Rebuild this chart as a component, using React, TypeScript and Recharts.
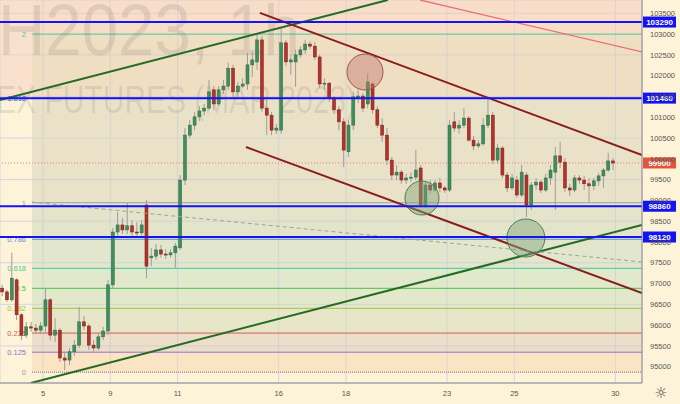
import React from 'react';
import {
  ComposedChart, Bar, XAxis, YAxis, CartesianGrid,
  ReferenceLine, ReferenceArea, ReferenceDot, Customized,
} from 'recharts';

// trading sessions, Jan 2023 (first one is only partly on screen)
const sessionDays = [3, 4, 5, 6, 9, 10, 11, 12, 13, 16, 17, 18, 19, 20, 23, 24, 25, 26, 27, 30];
const barsInSession = [2, 7, 7, 7, 7, 7, 7, 7, 7, 7, 7, 7, 7, 7, 7, 7, 7, 7, 7, 0];
const labelledDays = [5, 9, 11, 16, 18, 23, 25, 30];

const opens = [
  96890, 96800, 96610, 97090, 96250, 95760, 95960, 95930, 95880, 95980,
  96610, 95760, 95880, 95210, 95160, 95360, 95520, 96080, 95980, 95520,
  95450, 95720, 95860, 96970, 98240, 98410, 98290, 98390, 98240, 98220,
  98890, 97620, 97660, 97810, 97710, 97690, 97740, 97860, 99490, 100570,
  100810, 101010, 101150, 101220, 101660, 101320, 101660, 101750, 102180, 101610,
  101750, 101800, 102260, 102330, 102860, 101220, 101050, 100690, 100690, 102790,
  102330, 102330, 102500, 102620, 102760, 102710, 102450, 101800, 101820, 101460,
  101180, 100890, 100170, 100810, 101490, 101510, 101320, 101800, 101180, 100810,
  100570, 99970, 99610, 99680, 99490, 99540, 99560, 99780, 98890, 99370,
  99250, 99420, 99300, 99250, 100890, 100740, 100810, 100980, 100450, 100310,
  100360, 100810, 101050, 99970, 100260, 99610, 99300, 99490, 99130, 99610,
  98890, 99370, 99440, 99250, 99540, 99680, 100070, 99920, 99300, 99250,
  99540, 99490, 99400, 99350, 99470, 99590, 99730, 99950,
];
const highs = [
  96970, 96850, 97740, 97130, 96290, 96080, 96080, 96030, 96080, 96890,
  96650, 96170, 95930, 95360, 95450, 95640, 96440, 96220, 96030, 95640,
  95810, 95960, 97090, 98340, 98720, 98580, 98940, 98530, 98480, 98530,
  99010, 97860, 97950, 97930, 97830, 97830, 97980, 99610, 100740, 100930,
  101130, 101270, 101320, 101900, 101750, 101750, 101900, 102310, 102260, 101850,
  101940, 102550, 102570, 103030, 102950, 101420, 101130, 100840, 103170, 102860,
  102500, 102620, 102710, 102860, 102830, 102810, 102500, 101940, 101850, 101510,
  101270, 100980, 100930, 101610, 101660, 101580, 102060, 101850, 101270, 100980,
  100740, 100050, 99850, 99730, 99640, 99680, 100210, 99850, 99440, 99490,
  99490, 99540, 99350, 100930, 101130, 100930, 101220, 101030, 100550, 100450,
  100980, 101490, 101130, 100360, 100310, 99680, 99640, 99590, 99850, 99680,
  99440, 99540, 99490, 99640, 99850, 100280, 100410, 100020, 99400, 99610,
  99610, 99590, 99540, 99540, 99660, 99780, 100140, 100020,
];
const lows = [
  96700, 96560, 96560, 96120, 95640, 95690, 95840, 95790, 95790, 95810,
  95640, 95600, 95110, 94920, 95040, 95260, 95450, 95880, 95400, 95360,
  95400, 95640, 95760, 96890, 98150, 98190, 98190, 98150, 98100, 98150,
  97130, 97420, 97570, 97620, 97590, 97620, 97380, 97810, 99370, 100500,
  100690, 100910, 101050, 101180, 101180, 101270, 101560, 101660, 101460, 101460,
  101700, 101660, 101970, 102140, 101130, 100570, 100570, 100600, 100600, 102230,
  102020, 101730, 102430, 102520, 102640, 102380, 101700, 101660, 101370, 101080,
  100690, 99800, 100050, 100690, 101340, 101130, 101220, 101080, 100740, 100410,
  99850, 99490, 99490, 99400, 99400, 99440, 99490, 98820, 98820, 99160,
  99200, 99200, 99180, 99200, 100650, 100600, 100740, 100410, 100210, 100260,
  100310, 100740, 99880, 99880, 99540, 99200, 99250, 99060, 99080, 98600,
  98770, 99250, 99180, 99200, 99370, 98770, 99780, 99200, 99110, 99200,
  99400, 99250, 98960, 99250, 99350, 99300, 99680, 99730,
];
const closes = [
  96800, 96610, 97130, 96250, 95760, 95960, 95930, 95880, 95980, 96610,
  95760, 95880, 95210, 95160, 95360, 95520, 96080, 95980, 95520, 95450,
  95720, 95860, 96970, 98240, 98410, 98290, 98390, 98240, 98220, 98410,
  97420, 97660, 97810, 97710, 97690, 97740, 97900, 99490, 100570, 100810,
  101010, 101150, 101220, 101610, 101320, 101660, 101750, 102180, 101610, 101750,
  101800, 102260, 102380, 102860, 101220, 101050, 100690, 100740, 102790, 102330,
  102380, 102500, 102620, 102760, 102710, 102450, 101800, 101820, 101460, 101180,
  100890, 100210, 100810, 101490, 101510, 101220, 101850, 101180, 100810, 100570,
  99970, 99610, 99680, 99490, 99540, 99560, 99730, 98890, 99370, 99250,
  99420, 99300, 99250, 100810, 100740, 100810, 100980, 100450, 100310, 100360,
  100810, 101050, 99970, 100260, 99610, 99300, 99540, 99130, 99680, 98890,
  99370, 99440, 99250, 99540, 99730, 100070, 99920, 99300, 99250, 99540,
  99490, 99400, 99350, 99470, 99590, 99730, 99950, 99900,
];

const priceTicks = [
  95000, 95500, 96000, 96500, 97000, 97500, 98000, 98500,
  99000, 99500, 100000, 100500, 101000, 101500, 102000, 102500, 103000, 103500,
];

const fibNames = ['0', '0.125', '0.236', '0.382', '0.5', '0.618', '0.786', '1', '1.618', '2'];
const fibValues = [94870, 95350, 95810, 96405, 96886, 97367, 98065, 98945, 101460, 103000];
const levelPrices = [103290, 101460, 98860, 98120];
const lastPrice = 99900;

// drawn lines: [candle index, price] pairs
const trendLines = [
  { from: [-0.43, 101415], to: [80.2, 103820] },
  { from: [6.0, 94609], to: [133.04, 98410] },
  { from: [53.6, 103510], to: [133.04, 100090] },
  { from: [50.7, 100285], to: [133.04, 96770] },
  { from: [86.9, 103820], to: [133.04, 102570] },
  { from: [6.2, 98960], to: [133.04, 97520] },
];
const circles = [
  { idx: 75.45, price: 102088 },
  { idx: 87.3, price: 99058 },
  { idx: 108.9, price: 98096 },
];

const X_DOMAIN: [number, number] = [-0.432, 133.04];
const Y_DOMAIN: [number, number] = [94609, 103820];
const FIB_START = 6.22;
const FONT = '"Liberation Sans", Arial, sans-serif';

const fibColors = ['#a39c90', '#8f70d2', '#d05d58', '#a2c43a', '#46c646', '#3ccf98', '#5a92de', '#a0a0a0', '#3b57e0', '#44c898'];
const bandFills = ['#f7d5b0', '#dbc9b8', '#d3d9b8', '#cbddbc', '#c7ddc0', '#c7d9c0', '#cbd5bc', '#d7d1b8', '#e3c9ae', '#f3c9b8'];
const lineStyles = [
  { stroke: '#236b23', width: 2, dash: undefined },
  { stroke: '#236b23', width: 2, dash: undefined },
  { stroke: '#8a1c1c', width: 2, dash: undefined },
  { stroke: '#8a1c1c', width: 2, dash: undefined },
  { stroke: '#e8707a', width: 1.3, dash: undefined },
  { stroke: '#a3a09a', width: 1, dash: '4 3' },
];
const circleStyles = [
  { fill: '#c07a70', stroke: '#a0554c', r: 18 },
  { fill: '#7fa37a', stroke: '#4f7a4f', r: 17 },
  { fill: '#7fa37a', stroke: '#4f7a4f', r: 19 },
];

const data = opens.map((o, i) => ({
  idx: i,
  open: o,
  high: highs[i],
  low: lows[i],
  close: closes[i],
  range: [lows[i], highs[i]],
}));

const sessionStart: number[] = [];
let acc = 0;
sessionDays.forEach((d, i) => {
  sessionStart.push(acc);
  acc += barsInSession[i];
});
const dayTicks = labelledDays.map((d) => sessionStart[sessionDays.indexOf(d)] - 0.5);
const dayLabel = (v: number) => {
  const i = dayTicks.findIndex((t) => Math.abs(t - v) < 0.01);
  return i >= 0 ? String(labelledDays[i]) : '';
};

const Candle = (props: any) => {
  const { x, y, width, height, payload } = props;
  if (x == null || !payload) return null;
  const { open, close, high, low } = payload;
  const top = Math.min(y, y + height);
  const h = Math.abs(height);
  const k = h / Math.max(high - low, 1);
  const py = (v: number) => top + (high - v) * k;
  const up = close >= open;
  const bodyTop = py(Math.max(open, close));
  const bodyH = Math.max(py(Math.min(open, close)) - bodyTop, 1);
  const cx = x + width / 2;
  return (
    <g>
      <line x1={cx} x2={cx} y1={top} y2={top + h} stroke="#9c9c9c" strokeWidth={1} />
      <rect
        x={x} y={bodyTop} width={width} height={bodyH}
        fill={up ? '#3f8f5c' : '#b3322b'}
        stroke={up ? '#2b6640' : '#7a1e19'} strokeWidth={0.5}
      />
    </g>
  );
};

const fibLabel = (name: string, color: string) => (p: any) => {
  const vb = p.viewBox || {};
  return (
    <text x={(vb.x ?? 32) - 6} y={(vb.y ?? 0) + 3} textAnchor="end" fontSize={7.5} fill={color} fontFamily={FONT}>
      {name}
    </text>
  );
};

const priceTag = (text: string, bg: string) => (p: any) => {
  const vb = p.viewBox || {};
  const x = (vb.x ?? 0) + (vb.width ?? 642) + 1;
  const y = vb.y ?? 0;
  return (
    <g>
      <rect x={x} y={y - 5.5} width={33} height={11} fill={bg} />
      <text x={x + 16.5} y={y + 3} textAnchor="middle" fontSize={8} fontWeight="bold" fill="#fff" fontFamily={FONT}>
        {text}
      </text>
    </g>
  );
};

const Watermark = () => (
  <g>
    <g fill="#6f6a60" fillOpacity={0.16} fontFamily={FONT}>
      <text x={-2} y={55} fontSize={72} textLength={302} lengthAdjust="spacingAndGlyphs">H2023, 1h</text>
      <text x={-4} y={113} fontSize={39} textLength={360} lengthAdjust="spacingAndGlyphs">EX FUTURES (MAR 2023)</text>
    </g>
    <text x={661} y={398} fontSize={15} textAnchor="middle" fill="#444" fontFamily="DejaVu Sans">☼</text>
  </g>
);

export default function App() {
  return (
    <div style={{ position: 'absolute', left: 0, top: 0, width: 680, height: 404, background: '#fdf3d8', fontFamily: FONT }}>
      <ComposedChart width={680} height={404} data={data} margin={{ top: 0, right: 0, bottom: 0, left: 0 }}>
        <CartesianGrid stroke="#d0d4e8" strokeWidth={1} />
        <XAxis
          type="number" dataKey="idx" domain={X_DOMAIN} allowDataOverflow
          ticks={dayTicks} interval={0} tickFormatter={dayLabel} height={21}
          tickLine={false} axisLine={{ stroke: '#8a8a8a' }}
          tick={{ fontSize: 7.5, fill: '#555', fontFamily: FONT }}
        />
        <YAxis
          orientation="right" domain={Y_DOMAIN} allowDataOverflow ticks={priceTicks} width={38}
          tickLine={false} axisLine={{ stroke: '#8a8a8a' }}
          tick={{ fontSize: 7.5, fill: '#555', fontFamily: FONT }}
        />
        <Customized component={Watermark} />

        {/* fib zones */}
        <ReferenceArea x1={X_DOMAIN[0]} x2={FIB_START} y1={fibValues[8]} y2={Y_DOMAIN[1]}
          fill="#f7cfc2" fillOpacity={0.5} stroke="none" zIndex={-60} ifOverflow="visible" />
        {fibValues.map((v, i) => (
          <ReferenceArea key={'band' + i} x1={FIB_START} x2={X_DOMAIN[1]} y1={v}
            y2={i < fibValues.length - 1 ? fibValues[i + 1] : Y_DOMAIN[1]}
            fill={bandFills[i]} fillOpacity={0.5} stroke="none" zIndex={-60} ifOverflow="visible" />
        ))}
        {fibValues.map((v, i) => (
          <ReferenceLine key={'fib' + i}
            segment={[{ x: FIB_START, y: v }, { x: X_DOMAIN[1], y: v }]}
            stroke={fibColors[i]} strokeWidth={i === 0 ? 1.5 : 1}
            strokeDasharray={i === 0 ? '1 1' : undefined}
            ifOverflow="visible" zIndex={-40}
            label={fibLabel(fibNames[i], fibColors[i])} />
        ))}

        <ReferenceLine y={lastPrice} stroke="#e8806a" strokeDasharray="1 2" zIndex={-30}
          label={priceTag(String(lastPrice), '#e0553c')} />

        <Bar dataKey="range" shape={Candle} barSize={3} isAnimationActive={false} />

        {trendLines.map((t, i) => (
          <ReferenceLine key={'tl' + i}
            segment={[{ x: t.from[0], y: t.from[1] }, { x: t.to[0], y: t.to[1] }]}
            stroke={lineStyles[i].stroke} strokeWidth={lineStyles[i].width}
            strokeDasharray={lineStyles[i].dash} ifOverflow="hidden" zIndex={450} />
        ))}
        {circles.map((c, i) => (
          <ReferenceDot key={'c' + i} x={c.idx} y={c.price} r={circleStyles[i].r}
            fill={circleStyles[i].fill} fillOpacity={0.45}
            stroke={circleStyles[i].stroke} strokeWidth={1} zIndex={460} />
        ))}
        {levelPrices.map((v) => (
          <ReferenceLine key={'lvl' + v} y={v} stroke="#1414f0" strokeWidth={2} zIndex={470}
            label={priceTag(String(v), '#1414f0')} />
        ))}
      </ComposedChart>
    </div>
  );
}
